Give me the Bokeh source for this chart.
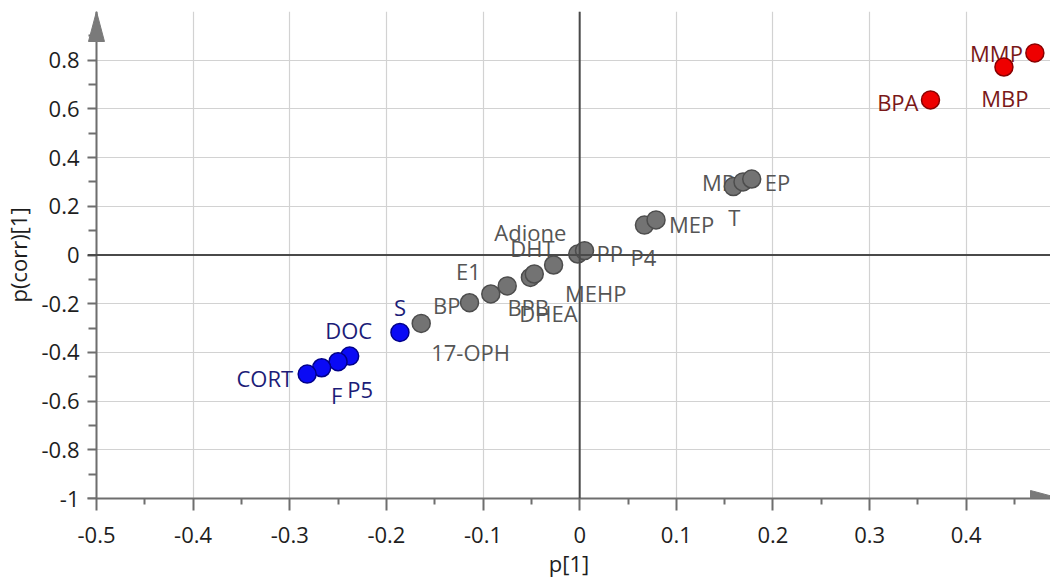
from bokeh.plotting import figure
from bokeh.models import ColumnDataSource, FixedTicker, Span, PolyAnnotation, LinearAxis
from bokeh.core.properties import value
from bokeh.embed import file_html
from bokeh.resources import INLINE

# ---------------- data ----------------
gray_names = ["17-OPH", "BP", "E1", "BPB", "DHEA", "Adione", "DHT", "MEHP",
              "PP", "P4", "MEP", "T", "MP", "EP"]
gray_x = [-0.164, -0.114, -0.092, -0.075, -0.051, -0.047, -0.027, -0.002,
          0.005, 0.067, 0.079, 0.159, 0.169, 0.178]
gray_y = [-0.281, -0.196, -0.160, -0.127, -0.092, -0.078, -0.041, 0.004,
          0.018, 0.123, 0.144, 0.281, 0.300, 0.312]

blue_names = ["S", "DOC", "P5", "F", "CORT"]
blue_x = [-0.186, -0.238, -0.250, -0.267, -0.282]
blue_y = [-0.318, -0.415, -0.438, -0.463, -0.489]

red_names = ["BPA", "MBP", "MMP"]
red_x = [0.363, 0.439, 0.471]
red_y = [0.637, 0.772, 0.830]

x_ticks = [-0.5, -0.4, -0.3, -0.2, -0.1, 0, 0.1, 0.2, 0.3, 0.4]
x_tick_labels = ["-0.5", "-0.4", "-0.3", "-0.2", "-0.1", "0", "0.1", "0.2", "0.3", "0.4"]
y_ticks = [-1, -0.8, -0.6, -0.4, -0.2, 0, 0.2, 0.4, 0.6, 0.8]
y_tick_labels = ["-1", "-0.8", "-0.6", "-0.4", "-0.2", "0", "0.2", "0.4", "0.6", "0.8"]

# ---------------- layout / style (label placement in screen px) ----------------
label_layout = {
    "17-OPH": ("left", 10, 29), "BP": ("right", -9, 2), "E1": ("right", -10, -23),
    "BPB": ("center", 21, 21), "DHEA": ("center", 18, 36), "Adione": ("center", -4, -42),
    "DHT": ("right", 1, -17), "MEHP": ("center", 18, 39), "PP": ("left", 12, 2),
    "P4": ("center", -1, 32), "MEP": ("left", 13, 4), "T": ("center", 1, 30),
    "MP": ("right", -8, 0), "EP": ("left", 13, 3),
    "S": ("center", 0, -25), "DOC": ("center", -1, -26), "P5": ("center", 22, 27),
    "F": ("center", 15, 27), "CORT": ("right", -14, 4),
    "BPA": ("right", -12, 2), "MBP": ("center", 1, 31), "MMP": ("right", -12, 0),
}

FONT = "Open Sans"
FS = "22px"
AXIS_C = "#6e6e6e"
TXT_C = "#1e1e1e"
W, H = 1050, 581
BL, BR, BT, BB = 86, 0, 11, 83
px_x = 967.4                      # screen px per data unit on x (as in reference)
AX_X = -0.5                       # y-axis position (data)
X0 = AX_X - (95 - BL) / px_x      # a few px of frame left of the y axis (room for its arrow)
X1 = X0 + (W - BL - BR) / px_x
Y0, Y1 = -1.0, 1.0
px_y = (H - BT - BB) / (Y1 - Y0)

p = figure(width=W, height=H, x_range=(X0, X1), y_range=(Y0, Y1),
           output_backend="svg", toolbar_location=None,
           min_border_left=BL, min_border_right=BR, min_border_top=BT, min_border_bottom=BB)
p.outline_line_color = None
p.background_fill_color = "white"
p.border_fill_color = "white"

# ---- x axis ----
xa = p.xaxis[0]
xa.ticker = FixedTicker(ticks=x_ticks, minor_ticks=[t + 0.05 for t in x_ticks])
xa.major_label_overrides = dict(zip(x_ticks, x_tick_labels))

# ---- y axis line + ticks at x = -0.5 ----
ya = p.yaxis[0]
ya.ticker = FixedTicker(ticks=y_ticks, minor_ticks=[t + 0.1 for t in y_ticks])
ya.fixed_location = AX_X
ya.major_label_text_alpha = 0
ya.major_label_text_font_size = "1px"

for ax in (xa, ya):
    ax.axis_line_color = AXIS_C
    ax.axis_line_width = 2
    ax.major_tick_line_color = AXIS_C
    ax.major_tick_line_width = 2
    ax.minor_tick_line_color = AXIS_C
    ax.minor_tick_line_width = 2
    ax.major_tick_in = 0
    ax.minor_tick_in = 0
    ax.major_tick_out = 12
xa.minor_tick_out = 6
ya.minor_tick_out = 8

xa.major_label_text_font = FONT
xa.major_label_text_font_size = FS
xa.major_label_text_color = TXT_C
xa.major_label_standoff = 16
xa.axis_label = "p[1]"
xa.axis_label_text_font = FONT
xa.axis_label_text_font_size = FS
xa.axis_label_text_font_style = "normal"
xa.axis_label_text_color = TXT_C
xa.axis_label_standoff = 2

# ---- y tick labels + title (in the left panel) ----
yl = LinearAxis(
    ticker=FixedTicker(ticks=y_ticks, minor_ticks=[]),
    major_label_overrides=dict(zip(y_ticks, y_tick_labels)),
    axis_line_color=None, major_tick_line_color=None, minor_tick_line_color=None,
    major_tick_out=0, minor_tick_out=0, major_label_standoff=8,
    major_label_text_font=FONT, major_label_text_font_size=FS,
    major_label_text_color=TXT_C,
    axis_label="p(corr)[1]", axis_label_text_font=FONT,
    axis_label_text_font_size=FS, axis_label_text_font_style="normal",
    axis_label_text_color=TXT_C, axis_label_standoff=5,
)
p.add_layout(yl, "left")

for g in (p.xgrid, p.ygrid):
    g.grid_line_color = "#d2d2d2"
    g.grid_line_width = 1.2

# zero lines
p.add_layout(Span(location=0, dimension="height", line_color="#4a4a4a", line_width=2))
p.add_layout(Span(location=0, dimension="width", line_color="#4a4a4a", line_width=2))

# axis arrowheads
ah_len, ah_half = 30, 8
p.add_layout(PolyAnnotation(
    xs=[AX_X - ah_half / px_x, AX_X + ah_half / px_x, AX_X],
    ys=[Y1 - ah_len / px_y, Y1 - ah_len / px_y, Y1],
    fill_color="#7a7a7a", fill_alpha=1, line_color="#7a7a7a", line_alpha=1))
xb = X0 + (1030 - BL) / px_x
p.add_layout(PolyAnnotation(
    xs=[xb, xb, xb + ah_len / px_x],
    ys=[Y0 - ah_half / px_y, Y0 + ah_half / px_y, Y0],
    fill_color="#7a7a7a", fill_alpha=1, line_color="#7a7a7a", line_alpha=1))


def make_source(names, xs, ys):
    return ColumnDataSource(dict(
        x=xs, y=ys, name=names,
        align=[label_layout[n][0] for n in names],
        dx=[label_layout[n][1] for n in names],
        dy=[label_layout[n][2] for n in names],
    ))


series = [
    (gray_names, gray_x, gray_y, "#737373", "#4d4d4d", "#555555"),
    (blue_names, blue_x, blue_y, "#0a0af5", "#00008a", "#1c1c78"),
    (red_names, red_x, red_y, "#ee0000", "#8a0000", "#7a1818"),
]
sources = [make_source(n, x, y) for n, x, y, *_ in series]

# labels first (points drawn above them)
for src, (_, _, _, fc, lc, tc) in zip(sources, series):
    p.text(x="x", y="y", text="name", source=src, x_offset="dx", y_offset="dy",
           text_align="align", text_baseline="middle",
           text_font=value(FONT), text_font_size=FS, text_color=tc)
for src, (_, _, _, fc, lc, tc) in zip(sources, series):
    p.scatter(x="x", y="y", source=src, size=18, fill_color=fc,
              line_color=lc, line_width=1.5)

open("out.html", "w").write(file_html(p, INLINE))
